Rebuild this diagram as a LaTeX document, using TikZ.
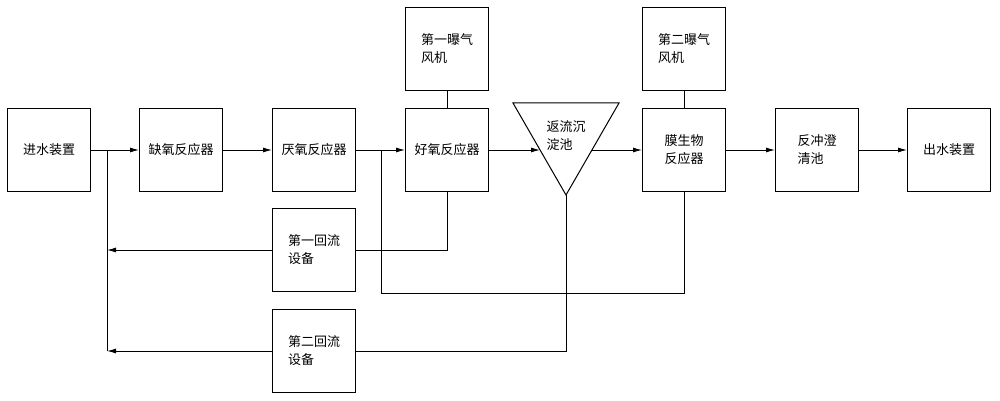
\documentclass[tikz,border=0pt]{standalone}
\usepackage{fontspec}
\newfontfamily\cjk{Noto Sans CJK SC}
\usetikzlibrary{arrows.meta}
\begin{document}
\begin{tikzpicture}[x=1pt,y=-1pt,
 box/.style={draw,line width=1pt,minimum width=83pt,minimum height=83pt,inner sep=1pt,font=\cjk\fontsize{13}{18}\selectfont,align=left},
 ln/.style={line width=1pt},
 ar/.style={line width=1pt,-{Latex[length=9pt,width=5pt]}}]
\useasboundingbox (0,0) rectangle (1000,401);
\node[box] (in) at (49,150) {进水装置};
\node[box] (qy) at (181,150) {缺氧反应器};
\node[box] (yy) at (314,150) {厌氧反应器};
\node[box] (hy) at (447,150) {好氧反应器};
\node[box] (mb) at (684,150) {膜生物\\反应器};
\node[box] (fc) at (817,150) {反冲澄\\清池};
\node[box] (out) at (949,150) {出水装置};
\node[box] (a1) at (447,49) {第一曝气\\风机};
\node[box] (a2) at (684,49) {第二曝气\\风机};
\node[box] (r1) at (314,250) {第一回流\\设备};
\node[box] (r2) at (314,351) {第二回流\\设备};
\coordinate (tl) at (513,103); \coordinate (tr) at (619,103); \coordinate (tb) at (566,195);
\draw[line width=1pt] (tl)--(tr)--(tb)--cycle;
\node[font=\cjk\fontsize{13}{18}\selectfont,align=left] (cd) at (566,136) {返流沉\\淀池};
\coordinate (tin) at (540,150); \coordinate (tout) at (592,150);
\coordinate (j1) at (107,150); \coordinate (j2) at (381,150);
\draw[ar] (in.east)--(qy.west);
\draw[ar] (qy.east)--(yy.west);
\draw[ar] (yy.east)--(hy.west);
\draw[ar] (hy.east)--(tin);
\draw[ar] (tout)--(mb.west);
\draw[ar] (mb.east)--(fc.west);
\draw[ar] (fc.east)--(out.west);
\draw[ln] (a1)--(hy); \draw[ln] (a2)--(mb);
\draw[ln] (j1)--(107,351);
\draw[ar] (r1.west)--(107,250);
\draw[ar] (r2.west)--(107,351);
\draw[ln] (hy.south)--(447,250)--(r1.east);
\draw[ln] (tb)--(566,351)--(r2.east);
\draw[ln] (j2)--(381,293)--(684,293)--(mb.south);
\end{tikzpicture}
\end{document}
